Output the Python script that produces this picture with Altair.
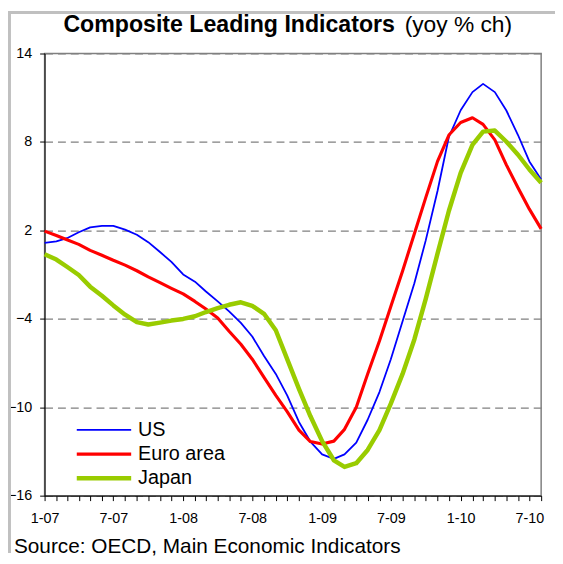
import altair as alt
import pandas as pd

series_names = ["US", "Euro area", "Japan"]
series_colors = ["#0000FF", "#FF0000", "#99CC00"]
series_widths = [1.8, 4.5, 7]

# monthly observations, Jan 2007 .. Aug 2010
months = [f"{2007 + i // 12}-{i % 12 + 1:02d}-01" for i in range(44)]

us = [1.15, 1.25, 1.47, 1.87, 2.2, 2.3, 2.3, 2.05, 1.7, 1.2, 0.53, -0.14,
      -0.99, -1.48, -2.15, -2.82, -3.5, -4.28, -5.2, -6.52, -7.74, -9.2, -11.0, -12.33,
      -13.2, -13.5, -13.2, -12.4, -10.85, -8.97, -6.74, -4.17, -1.59, 1.32, 4.67, 8.35,
      10.15, 11.38, 11.94, 11.38, 10.15, 8.47, 6.68, 5.45]
euro = [1.95, 1.65, 1.36, 1.05, 0.64, 0.31, -0.03, -0.36, -0.74, -1.15, -1.55, -1.93,
        -2.31, -2.82, -3.34, -3.94, -4.85, -5.73, -6.74, -7.97, -9.2, -10.3, -11.55, -12.33,
        -12.5, -12.3, -11.5, -10.0, -7.75, -5.51, -3.16, -0.75, 1.77, 4.22, 6.68, 8.47,
        9.32, 9.64, 9.19, 8.14, 6.46, 4.89, 3.44, 2.1]
japan = [0.38, 0.02, -0.47, -1.03, -1.82, -2.44, -3.09, -3.72, -4.23, -4.39, -4.26, -4.12,
         -4.01, -3.83, -3.54, -3.27, -3.05, -2.88, -3.12, -3.66, -4.78, -6.74, -8.75, -10.6,
         -12.3, -13.6, -14.05, -13.8, -12.9, -11.55, -9.76, -7.74, -5.4, -2.65, 0.42, 3.33,
         5.9, 7.8, 8.7, 8.77, 8.03, 7.13, 6.13, 5.23]

y_ticks = [-16, -10, -4, 2, 8, 14]

title_main = "Composite Leading Indicators"
title_unit = "(yoy % ch)"
source_text = "Source: OECD, Main Economic Indicators"

FONT = "Liberation Sans"

rows = []
for name, vals in zip(series_names, [us, euro, japan]):
    for d, v in zip(months, vals):
        rows.append({"date": d, "value": v, "series": name})
df = pd.DataFrame(rows)

legend = alt.Legend(
    orient="none", legendX=74.5, legendY=370.5, title=None,
    symbolType="M-9.45,0H0.55", symbolSize=121, labelFontSize=20, labelFont=FONT,
    labelColor="#000000", labelOffset=0, rowPadding=4.5, padding=0,
)

lines = alt.Chart(df).mark_line(strokeJoin="round", strokeCap="butt").encode(
    x=alt.X(
        "date:T",
        scale=alt.Scale(
            type="utc",
            domain=[alt.DateTime(year=2007, month=1, date=1, utc=True),
                    alt.DateTime(year=2010, month=8, date=1, utc=True)],
        ),
        axis=alt.Axis(
            title=None, grid=False, tickCount={"interval": "month", "step": 1},
            labelExpr="(utcmonth(datum.value) % 6 == 0) ? utcFormat(datum.value, '%-m-%y') : ''",
            labelFlush=False, labelOverlap=False, tickSize=5, labelPadding=11.5,
            labelFontSize=14.5, labelFont=FONT, labelColor="#000000",
            domainColor="#000000", tickColor="#000000",
        ),
    ),
    y=alt.Y(
        "value:Q",
        scale=alt.Scale(domain=[-16, 14], nice=False, zero=False),
        axis=alt.Axis(
            title=None, values=y_ticks, grid=True, gridDash=[8, 5], gridColor="#808080",
            gridWidth=1.2, labelFlush=False, tickSize=5, labelPadding=8,
            labelFontSize=14.5, labelFont=FONT, labelColor="#000000",
            domainColor="#000000", tickColor="#000000",
        ),
    ),
    color=alt.Color("series:N", scale=alt.Scale(domain=series_names, range=series_colors),
                    legend=legend),
    strokeWidth=alt.StrokeWidth("series:N", scale=alt.Scale(domain=series_names, range=series_widths),
                                legend=legend),
    order=alt.Order("ord:Q"),
).transform_calculate(
    ord="indexof(['US','Euro area','Japan'], datum.series)"
)

one = pd.DataFrame({"a": [0]})

t_main = alt.Chart(one).mark_text(
    text=title_main, font=FONT, fontSize=23.4, fontWeight="bold", align="left",
    baseline="alphabetic", color="#000000",
).encode(x=alt.value(19), y=alt.value(-22))

t_unit = alt.Chart(one).mark_text(
    text=title_unit, font=FONT, fontSize=23, align="left",
    baseline="alphabetic", color="#000000",
).encode(x=alt.value(364), y=alt.value(-22))

t_source = alt.Chart(one).mark_text(
    text=source_text, font=FONT, fontSize=21, align="left",
    baseline="alphabetic", color="#000000",
).encode(x=alt.value(-31), y=alt.value(505))

frame_left = alt.Chart(one).mark_rule(color="#C0C0C0", strokeWidth=3).encode(
    x=alt.value(-35.5), y=alt.value(-43), y2=alt.value(505))
frame_top = alt.Chart(one).mark_rule(color="#C0C0C0", strokeWidth=3).encode(
    y=alt.value(-41.5), x=alt.value(-37), x2=alt.value(516))

chart = alt.layer(frame_left, frame_top, lines, t_main, t_unit, t_source).properties(
    width=502, height=447,
    autosize=alt.AutoSizeParams(type="none"),
    padding={"left": 37, "top": 43, "right": 14, "bottom": 58},
    background="#FFFFFF",
).configure_view(stroke="#808080", strokeWidth=1.5)

chart.save("out.html", embed_options={"renderer": "svg", "actions": False})
